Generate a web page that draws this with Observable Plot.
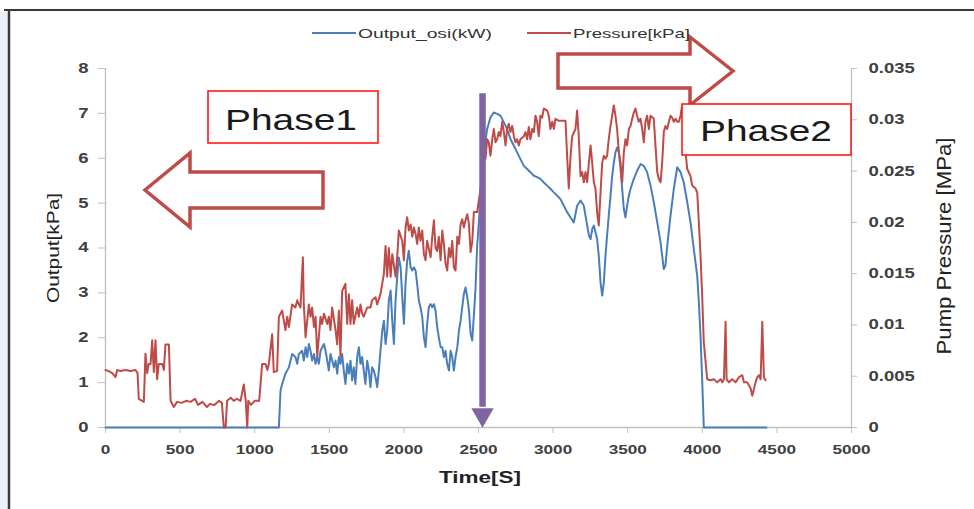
<!DOCTYPE html>
<html><head><meta charset="utf-8">
<script src="https://cdn.jsdelivr.net/npm/d3@7"></script>
<script src="https://cdn.jsdelivr.net/npm/@observablehq/plot@0.6"></script>
<style>
body{margin:0;background:#fff;}
#wrap{position:relative;width:974px;height:509px;overflow:hidden;background:#fff;}
#wrap svg{position:absolute;left:0;top:0;}
</style></head><body><div id="wrap"></div>
<script>
// ---- data ----
const outputTime = [0,1162,1173,1184,1206,1229,1251,1273,1285,1296,1318,1329,1341,1352,1363,1374,1385,1397,1408,1419,1430,1441,1464,1475,1486,1497,1508,1531,1542,1553,1564,1575,1586,1597,1608,1620,1631,1642,1653,1664,1675,1687,1698,1709,1720,1731,1742,1754,1765,1776,1787,1798,1810,1821,1832,1843,1855,1866,1877,1888,1899,1911,1922,1933,1944,1955,1966,1978,1989,2000,2011,2022,2033,2045,2056,2067,2078,2089,2100,2111,2123,2134,2145,2156,2167,2179,2190,2201,2212,2223,2234,2246,2257,2268,2279,2290,2302,2313,2324,2335,2346,2358,2369,2380,2391,2402,2413,2425,2436,2447,2458,2469,2480,2491,2503,2525,2547,2558,2580,2603,2625,2647,2670,2692,2714,2737,2759,2781,2804,2826,2848,2871,2893,2915,2938,2960,2982,3005,3027,3049,3072,3094,3117,3139,3161,3184,3206,3217,3240,3251,3262,3273,3284,3295,3306,3318,3329,3340,3351,3362,3373,3385,3396,3407,3418,3429,3441,3452,3463,3474,3485,3496,3508,3519,3541,3563,3586,3608,3630,3653,3675,3698,3720,3742,3753,3765,3787,3809,3832,3854,3876,3899,3921,3943,3966,3977,3988,3999,4010,4430];
const outputKw = [0,0,0.82,0.97,1.2,1.34,1.64,1.57,1.42,1.64,1.71,1.49,1.79,1.57,1.86,1.71,1.49,1.64,1.42,1.57,1.42,1.71,1.86,1.71,1.49,1.27,1.64,1.34,1.49,1.2,1.57,1.42,1.64,1.27,0.97,1.42,1.2,1.49,1.05,1.34,0.97,1.57,1.79,1.42,1.57,1.27,0.97,1.49,1.27,0.9,1.34,1.27,1.12,0.9,1.27,1.71,2.16,2.38,1.86,2.16,2.83,3.05,2.38,1.86,2.83,3.35,3.79,3.57,2.9,2.31,3.2,3.72,3.94,3.57,3.5,3.57,3.5,3.2,2.83,2.68,2.46,2.01,1.79,2.31,2.68,2.75,2.68,2.75,2.61,2.24,2.01,1.79,1.79,1.57,1.71,1.42,1.27,1.71,1.57,1.27,1.57,1.79,2.16,2.38,2.68,2.98,3.12,2.9,2.61,2.09,1.94,2.5,3.1,4.05,4.6,5.8,6.4,6.65,6.91,7.02,6.99,6.95,6.8,6.65,6.43,6.28,6.13,5.98,5.83,5.76,5.69,5.61,5.58,5.54,5.46,5.39,5.32,5.24,5.17,5.09,4.94,4.8,4.68,4.57,4.94,5.06,4.94,4.72,4.28,4.2,4.42,4.5,4.35,4.2,3.83,3.23,2.94,3.23,3.83,4.28,4.72,5.17,5.61,5.9,6.13,6.24,6.13,5.76,5.32,4.87,4.68,4.94,5.17,5.32,5.54,5.72,5.87,5.83,5.69,5.39,5.02,4.57,4.13,3.53,3.61,4.05,4.72,5.32,5.8,5.69,5.46,5.02,4.57,3.98,3.38,2.79,2.04,1.08,0,0];

const pressureTime = [0,22,45,67,78,100,134,167,201,215,223,245,257,268,279,290,302,313,324,335,346,357,380,391,402,425,436,458,480,510,540,570,600,620,650,680,700,730,760,780,793,805,815,840,860,880,905,927,940,950,957,975,1000,1030,1050,1072,1085,1095,1117,1128,1150,
1162,1184,1206,1218,1229,1251,1273,1285,1296,1307,1323,1329,1341,1363,1374,1385,1397,1408,1419,1441,1452,1464,1486,1497,1508,1519,1542,1553,1564,1575,1586,1608,1620,1631,1642,1653,1664,1687,1698,1709,1720,1731,1754,1776,1787,1810,1821,1843,1866,1877,1888,1899,1911,1922,1944,1955,1966,1989,2000,2011,2022,2033,2045,2056,2067,2078,2089,2100,2111,2123,2134,2145,2156,2179,2190,2201,2212,2223,2234,2246,2257,2268,2279,2290,2302,2313,2324,2335,2346,2358,2369,2380,2391,2402,2413,2425,2436,2447,2458,2469,2491,
2513,2536,2547,2558,2569,2580,2592,2603,2614,2625,2636,2647,2659,2670,2681,2692,2703,2714,2726,2737,2748,2759,2770,2781,2804,2815,2826,2837,2848,2860,2871,2882,2893,2904,2915,2926,2938,2960,2971,2982,2994,3005,3016,3038,3072,3083,3094,3105,3117,3128,3150,3161,3172,3184,3195,3206,3217,3228,3240,3251,3262,3273,3284,3295,3306,3318,3329,3340,3351,3362,3373,3385,3396,3407,3418,3429,3441,3452,3463,3474,3485,3496,3508,3519,3530,3541,3552,3563,3574,3586,
3597,3608,3619,3630,3642,3653,3675,3686,3698,3709,3720,3731,3742,3753,3765,3776,3787,3798,3809,3821,3832,3843,3854,3865,3876,3888,3899,3921,3932,3955,3966,3977,3988,3999,4010,4033,4055,4078,4100,4123,4134,4145,4156,4163,4178,4201,4223,4245,4268,4279,4301,4324,4335,4357,4368,4380,4391,4402,4413,4424];
const pressureKpa = [5.6,5.5,5.3,4.9,5.6,5.5,5.6,5.5,5.6,5.3,2.8,2.6,2.5,7.2,5.3,6.2,6.2,8.5,5.4,8.5,4.7,6.2,6.2,5.6,8.1,8.1,2.6,2.0,2.5,2.4,2.6,2.5,2.8,2.2,2.5,2.0,2.3,2.2,2.6,2.4,0,0,2.6,2.9,2.6,2.8,2.6,4.2,2.6,0,2.6,2.2,2.6,2.6,6.2,6.2,5.6,6.2,9.1,5.4,5.5,
10.8,11.4,9.5,10.8,9.8,12.0,11.7,12.4,12.0,11.7,16.6,12.0,8.8,12.0,10.8,11.7,9.8,10.8,6.9,10.8,10.1,11.1,10.1,10.8,9.5,11.7,9.5,8.1,11.4,6.9,13.3,14.0,10.1,13.0,10.1,12.4,10.1,11.7,10.8,12.0,11.1,10.8,11.7,11.7,12.4,12.7,12.0,13.0,15.0,17.7,14.7,17.5,14.7,16.9,14.7,16.6,19.2,18.2,16.3,19.5,20.5,19.2,19.8,18.6,19.5,18.9,17.9,19.5,18.2,19.2,16.9,16.3,18.2,16.6,18.6,20.2,17.5,17.2,18.6,16.3,19.2,17.9,16.0,15.3,17.5,16.6,18.2,15.6,15.3,18.6,17.9,19.8,20.3,19.5,20.2,20.8,19.8,17.1,18.1,21.0,21.0,
23.2,26.2,26.2,28.1,27.8,26.5,28.1,29.1,27.8,28.1,28.8,28.4,29.8,28.8,27.5,29.1,29.6,28.8,29.4,28.4,27.8,28.1,27.5,28.1,28.4,28.8,28.1,29.3,28.1,29.1,28.8,30.4,29.8,28.4,30.4,30.2,31.1,30.9,30.4,29.1,29.8,29.1,30.1,29.9,29.9,29.9,26.5,23.3,26.5,28.4,29.1,30.9,28.4,24.5,24.9,23.9,24.9,23.9,25.8,27.5,25.8,23.9,23.3,21.0,19.7,22.9,25.8,26.5,26.2,26.5,28.1,29.4,30.4,31.4,30.4,29.1,26.8,25.8,23.9,26.8,28.1,27.5,29.1,29.4,30.1,30.7,31.1,30.4,29.8,30.1,
29.1,27.8,29.8,30.4,29.1,30.4,30.1,27.5,24.9,24.2,23.9,25.8,28.8,29.4,29.1,29.8,30.4,30.2,29.8,30.1,29.8,29.8,30.4,31.4,29.1,26.8,25.2,24.5,23.6,23.3,22.9,20.0,16.8,12.9,8.3,4.7,4.6,4.7,4.4,4.7,4.4,4.7,10.3,4.7,4.4,4.7,4.4,4.9,5.1,4.4,4.4,3.8,3.1,4.4,4.9,5.1,4.7,10.3,4.9,4.6];

const timeTicks = [0,500,1000,1500,2000,2500,3000,3500,4000,4500,5000];
const outputTicks = [0,1,2,3,4,5,6,7,8];
const pressureTicksMPa = [0,0.005,0.01,0.015,0.02,0.025,0.03,0.035];
const seriesNames = ["Output_osi(kW)", "Pressure[kPa]"];
const phaseLabels = ["Phase1", "Phase2"];
const phaseBoundaryTime = 2527;   // time of the vertical purple marker
const phaseMarkerTop = 7.44;      // on the Output axis

// ---- scale link between the two axes: 8 (left) <-> 0.035 MPa = 35 kPa (right)
const K = 8 / 35;
const output = outputTime.map((t, i) => ({t, v: outputKw[i]}));
const pressure = pressureTime.map((t, i) => ({t, v: pressureKpa[i] * K}));

const BLUE = "#4a7ebb", RED = "#be4b48", PURPLE = "#8064a2", GRID = "#bfbfbf", TXT = "#404040";
const FONT = "'Liberation Sans', Arial, sans-serif";

const plot = Plot.plot({
  width: 974, height: 509,
  marginLeft: 105, marginRight: 123, marginTop: 68, marginBottom: 82,
  x: {domain: [0, 5000]},
  y: {domain: [0, 8]},
  style: {fontFamily: FONT, background: "transparent", overflow: "visible"},
  marks: [
    Plot.ruleX([0, 5000], {stroke: GRID, strokeWidth: 1.3}),
    Plot.ruleY([0], {stroke: GRID, strokeWidth: 1.3}),
    Plot.axisX(timeTicks, {tickSize: 6, tickPadding: 11, stroke: GRID, fill: TXT, color: TXT, fontSize: 13, fontWeight: "bold", label: null, tickFormat: d => String(d)}),
    Plot.axisY(outputTicks, {anchor: "left", tickSize: 7, tickPadding: 10, stroke: GRID, fill: TXT, fontSize: 14, fontWeight: "bold", label: null, tickFormat: d => String(d)}),
    Plot.axisY(pressureTicksMPa.map(v => v * 1000 * K), {anchor: "right", tickSize: 5, tickPadding: 12, stroke: GRID, fill: TXT, fontSize: 14, fontWeight: "bold", label: null, tickFormat: d => String(+(d / K / 1000).toFixed(3))}),
    Plot.line(output, {x: "t", y: "v", stroke: BLUE, strokeWidth: 2}),
    Plot.line(pressure, {x: "t", y: "v", stroke: RED, strokeWidth: 2}),
    Plot.ruleX([phaseBoundaryTime], {x: d => d, y1: () => 0.45, y2: () => phaseMarkerTop, stroke: PURPLE, strokeWidth: 6.5}),
    Plot.dot([phaseBoundaryTime], {x: d => d, y: () => 0, symbol: "triangle", rotate: 180, r: 8.3, fill: PURPLE, stroke: "none", dy: -12.7})
  ]
});
document.getElementById("wrap").appendChild(plot);

const svg = d3.select(plot);
// widen the axis labels like the (horizontally stretched) original picture
function stretch(sel, k) {
  sel.each(function () {
    const w = this.getComputedTextLength();
    if (w > 0) { this.setAttribute("textLength", w * k); this.setAttribute("lengthAdjust", "spacingAndGlyphs"); }
  });
}
stretch(svg.selectAll("text"), 1.32);

// ---- annotations, legend, titles
const g = svg.append("g").attr("font-family", FONT).attr("text-anchor", "start");
function fitText(sel, len) { sel.attr("textLength", len).attr("lengthAdjust", "spacingAndGlyphs"); }

// block arrows
g.append("path").attr("d", "M145,190 L190,153 L190,172 L323,172 L323,208 L190,208 L190,227 Z")
  .attr("fill", "white").attr("stroke", RED).attr("stroke-width", 3.5).attr("stroke-linejoin", "miter");
g.append("path").attr("d", "M558,54 L690,54 L690,37 L733,71 L690,105 L690,88 L558,88 Z")
  .attr("fill", "white").attr("stroke", RED).attr("stroke-width", 3.5).attr("stroke-linejoin", "miter");

// phase boxes
g.append("rect").attr("x", 208).attr("y", 91).attr("width", 170).attr("height", 52)
  .attr("fill", "white").attr("stroke", "#ff1a1a").attr("stroke-width", 1.6);
g.append("text").attr("x", 291).attr("y", 130).attr("text-anchor", "middle").attr("font-size", 30).attr("fill", "#1a1a1a")
  .text(phaseLabels[0]).call(fitText, 132);
g.append("rect").attr("x", 682).attr("y", 104).attr("width", 169).attr("height", 51)
  .attr("fill", "white").attr("stroke", "#ff1a1a").attr("stroke-width", 1.6);
g.append("text").attr("x", 766).attr("y", 141).attr("text-anchor", "middle").attr("font-size", 30).attr("fill", "#1a1a1a")
  .text(phaseLabels[1]).call(fitText, 132);

// legend
g.append("line").attr("x1", 312).attr("x2", 356).attr("y1", 33).attr("y2", 33).attr("stroke", BLUE).attr("stroke-width", 2.2);
g.append("text").attr("x", 358).attr("y", 38).attr("text-anchor", "start").attr("font-size", 13).attr("fill", "#333").text(seriesNames[0]).call(fitText, 134);
g.append("line").attr("x1", 527).attr("x2", 571).attr("y1", 33).attr("y2", 33).attr("stroke", RED).attr("stroke-width", 2.2);
g.append("text").attr("x", 573).attr("y", 38).attr("text-anchor", "start").attr("font-size", 13).attr("fill", "#333").text(seriesNames[1]).call(fitText, 117);

// axis titles
g.append("text").attr("transform", "translate(59,248) rotate(-90)").attr("text-anchor", "middle")
  .attr("font-size", 16).attr("fill", "#222").text("Output[kPa]").call(fitText, 110);
g.append("text").attr("transform", "translate(951,246) rotate(-90)").attr("text-anchor", "middle")
  .attr("font-size", 20).attr("fill", "#222").text("Pump Pressure [MPa]").call(fitText, 217);
g.append("text").attr("x", 480).attr("y", 483).attr("text-anchor", "middle").attr("font-size", 17).attr("font-weight", "bold")
  .attr("fill", "#222").text("Time[S]").call(fitText, 82);

// outer frame of the original screenshot
g.append("rect").attr("x", 0).attr("y", 12).attr("width", 8).attr("height", 497).attr("fill", "#eaf1fa");
g.append("line").attr("x1", 4).attr("x2", 974).attr("y1", 10).attr("y2", 10).attr("stroke", "#3a3a3a").attr("stroke-width", 2);
g.append("line").attr("x1", 9).attr("x2", 9).attr("y1", 10).attr("y2", 509).attr("stroke", "#3a3a3a").attr("stroke-width", 2.5);
</script>
</body></html>
